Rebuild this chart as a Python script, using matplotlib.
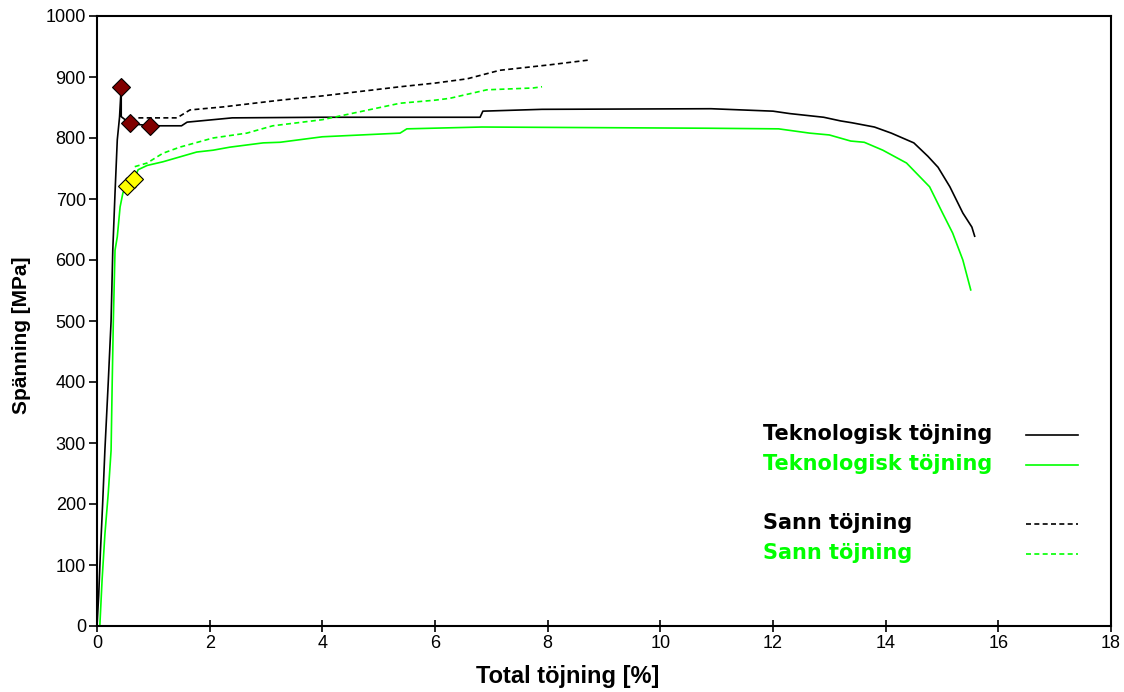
import matplotlib
matplotlib.use("Agg")
import matplotlib.pyplot as plt

plt.rcParams['font.family'] = ['Liberation Sans', 'DejaVu Sans']

# Technological strain curves (strain %, stress MPa)
black_tech_x = [0.0, 0.03, 0.06, 0.10, 0.14, 0.20, 0.25, 0.28, 0.32, 0.36, 0.40, 0.43, 0.43, 0.50, 0.59, 0.75, 0.94, 1.50, 1.60, 2.40, 4.0, 6.80, 6.85, 7.90, 10.9, 12.0, 12.3, 12.9, 13.2, 13.4, 13.8, 14.1, 14.5, 14.75, 14.93, 15.14, 15.37, 15.53, 15.58]
black_tech_y = [0, 50, 120, 200, 288, 400, 500, 616, 710, 797, 834, 884, 835, 830, 825, 822, 820, 820, 826, 833, 834, 834, 844, 847, 848, 844, 840, 834, 828, 825, 818, 808, 792, 770, 752, 720, 677, 654, 639]

green_tech_x = [0.05, 0.09, 0.14, 0.20, 0.25, 0.27, 0.29, 0.32, 0.36, 0.41, 0.46, 0.53, 0.66, 0.73, 0.89, 1.17, 1.47, 1.77, 2.06, 2.36, 2.95, 3.25, 4.0, 5.38, 5.50, 6.83, 10.84, 12.1, 12.65, 13.0, 13.38, 13.62, 13.95, 14.37, 14.78, 15.01, 15.19, 15.37, 15.51]
green_tech_y = [0, 75, 150, 218, 288, 400, 500, 616, 638, 687, 710, 722, 733, 748, 755, 761, 769, 777, 780, 785, 792, 793, 802, 808, 815, 818, 816, 815, 808, 805, 795, 793, 780, 759, 720, 677, 644, 600, 551]

# True strain curves
black_true_x = [0.59, 0.73, 1.42, 1.65, 2.24, 3.25, 4.0, 5.38, 6.0, 6.57, 7.15, 8.04, 8.75]
black_true_y = [830, 833, 833, 846, 851, 862, 869, 884, 890, 897, 911, 920, 928]

green_true_x = [0.67, 0.89, 1.17, 1.47, 2.06, 2.66, 3.12, 4.0, 5.38, 6.0, 6.26, 6.92, 7.74, 7.9]
green_true_y = [753, 759, 775, 785, 800, 808, 820, 830, 857, 862, 865, 879, 882, 884]

# Markers
red_mark_x = [0.43, 0.59, 0.94]
red_mark_y = [884, 825, 820]
yellow_mark_x = [0.53, 0.66]
yellow_mark_y = [722, 733]

legend_labels = ["Teknologisk töjning", "Teknologisk töjning", "Sann töjning", "Sann töjning"]
legend_colors = ["black", "#00ff00", "black", "#00ff00"]
legend_styles = ["-", "-", "--", "--"]

xticks = list(range(0, 19, 2))
yticks = list(range(0, 1001, 100))

W, H = 1124, 692
fig = plt.figure(figsize=(W / 100, H / 100), dpi=100)
ax = fig.add_axes([97 / W, 1 - 626 / H, (1111 - 97) / W, (626 - 16) / H])

lw = 1.2
ax.plot(black_tech_x, black_tech_y, color='black', lw=lw)
ax.plot(green_tech_x, green_tech_y, color='#00ff00', lw=lw)
ax.plot(black_true_x, black_true_y, color='black', lw=lw, dashes=(3, 2))
ax.plot(green_true_x, green_true_y, color='#00ff00', lw=lw, dashes=(3, 2))

ax.plot(red_mark_x, red_mark_y, linestyle='none', marker='D', markersize=9,
        markerfacecolor='#800000', markeredgecolor='black', markeredgewidth=0.8)
ax.plot(yellow_mark_x, yellow_mark_y, linestyle='none', marker='D', markersize=9,
        markerfacecolor='#ffff00', markeredgecolor='black', markeredgewidth=0.8)

ax.set_xlim(0, 18)
ax.set_ylim(0, 1000)
ax.set_xticks(xticks)
ax.set_yticks(yticks)
ax.tick_params(axis='x', direction='inout', length=9, width=1.2, labelsize=13, pad=2)
ax.tick_params(axis='y', direction='out', length=6, width=1.2, labelsize=13, pad=2)
for s in ax.spines.values():
    s.set_linewidth(1.5)

ax.set_xlabel("Total töjning [%]", fontsize=17, fontweight='bold')
ax.set_ylabel("Spänning [MPa]", fontsize=15, fontweight='bold')
ax.xaxis.label.set_va('center')
ax.yaxis.label.set_va('center')
ax.xaxis.set_label_coords(0.464, -0.082)
ax.yaxis.set_label_coords(-0.074, 0.477)

# Custom legend built from text and line samples
text_y = [434, 464, 523, 553]
for lab, col, ls, ty in zip(legend_labels, legend_colors, legend_styles, text_y):
    fig.text(763 / W, 1 - ty / H, lab, color=col, fontsize=15, fontweight='bold',
             family='DejaVu Sans', ha='left', va='center')
    line = plt.Line2D([1026 / W, 1078 / W], [1 - (ty + 1) / H, 1 - (ty + 1) / H],
                      transform=fig.transFigure, color=col, lw=1.2,
                      dashes=(3, 2) if ls == '--' else (None, None))
    fig.lines.append(line)

fig.savefig("out.png", dpi=100)
